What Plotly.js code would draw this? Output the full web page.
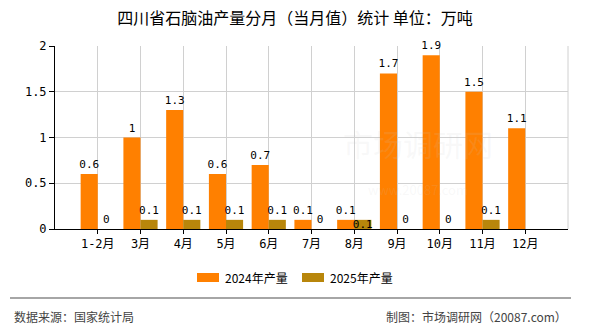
<!DOCTYPE html>
<html>
<head>
<meta charset="utf-8">
<script src="https://cdn.plot.ly/plotly-3.0.1.min.js"></script>
<style>
  html, body { margin: 0; padding: 0; background: #fff; }
  #chart { width: 590px; height: 330px; }
</style>
</head>
<body>
<div id="chart"></div>
<script>
// 四川省石脑油产量分月（当月值），万吨
const months = ['1-2月', '3月', '4月', '5月', '6月', '7月', '8月', '9月', '10月', '11月', '12月'];
const output2024 = [0.6, 1, 1.3, 0.6, 0.7, 0.1, 0.1, 1.7, 1.9, 1.5, 1.1];
const output2025 = [0, 0.1, 0.1, 0.1, 0.1, 0, 0.1, 0, 0, 0.1, null];
const seriesNames = ['2024年产量', '2025年产量'];
const seriesColors = ['#FF8000', '#B8860B'];
const yTicks = [0, 0.5, 1, 1.5, 2];

const monoFont = 'DejaVu Sans Mono, Noto Sans CJK SC, monospace';
const cjkFont = 'Noto Sans CJK SC, sans-serif';

const labelText = arr => arr.map(v => (v === null ? '' : String(v)));

// 8月 has two equal neighbouring labels; the 2025 one sits on the bar itself
const positions2025 = months.map(m => (m === '8月' ? 'inside' : 'outside'));

const traces = [output2024, output2025].map((vals, i) => ({
  type: 'bar', name: seriesNames[i], x: months, y: vals,
  marker: { color: seriesColors[i] },
  text: labelText(vals),
  textposition: i === 0 ? 'outside' : positions2025,
  insidetextanchor: 'middle',
  cliponaxis: false, constraintext: 'none',
  textfont: { family: monoFont, size: 11, color: '#000' },
  insidetextfont: { family: monoFont, size: 11, color: '#000' },
  outsidetextfont: { family: monoFont, size: 11, color: '#000' }
}));

// Paper-space helpers: plot area spans 55..568 px horizontally, 46..229 px vertically
const px = x => (x - 55) / 513;
const py = y => (229 - y) / 183;

// Hand-built legend with wide swatches
const legendShapes = [];
const legendNotes = [];
const legendX = [197, 302];
seriesNames.forEach((name, i) => {
  legendShapes.push({
    type: 'rect', xref: 'paper', yref: 'paper',
    x0: px(legendX[i]), x1: px(legendX[i] + 22), y0: py(282), y1: py(273),
    fillcolor: seriesColors[i], line: { width: 0 }
  });
  legendNotes.push({
    text: name, xref: 'paper', yref: 'paper', x: px(legendX[i] + 26), y: py(277.5),
    xanchor: 'left', yanchor: 'middle', showarrow: false,
    font: { family: cjkFont, size: 12, color: '#000' }
  });
});

const layout = {
  width: 590, height: 330,
  margin: { l: 55, r: 22, t: 46, b: 101 },
  paper_bgcolor: '#fff', plot_bgcolor: '#fff',
  barmode: 'group', bargap: 0.2, bargroupgap: 0,
  title: {
    text: '四川省石脑油产量分月（当月值）统计 单位：万吨',
    font: { family: cjkFont, size: 16, color: '#000' },
    x: 0.5, xanchor: 'center', y: 0.945, yanchor: 'middle'
  },
  xaxis: {
    type: 'category', range: [-1, 11],
    showline: true, linecolor: '#000', linewidth: 1,
    showgrid: true, gridcolor: '#d0d0d0', gridwidth: 1,
    ticks: 'outside', ticklen: 4, tickcolor: '#000',
    tickfont: { family: monoFont, size: 12, color: '#000' },
    zeroline: false, fixedrange: true
  },
  yaxis: {
    range: [0, 2], tickvals: yTicks, ticktext: yTicks.map(String),
    showline: true, linecolor: '#000', linewidth: 1,
    showgrid: true, gridcolor: '#d0d0d0', gridwidth: 1,
    ticks: 'outside', ticklen: 5, tickcolor: '#000',
    tickfont: { family: monoFont, size: 12, color: '#000' },
    zeroline: false, fixedrange: true
  },
  showlegend: false,
  shapes: [
    // right edge of the plot frame
    { type: 'line', xref: 'paper', yref: 'paper', x0: 1, x1: 1, y0: 0, y1: 1,
      line: { color: '#d0d0d0', width: 1 } },
    // footer divider
    { type: 'line', xref: 'paper', yref: 'paper', x0: px(10), x1: px(571), y0: py(298), y1: py(298),
      line: { color: '#888', width: 1.5 } }
  ].concat(legendShapes),
  annotations: [
    { text: '数据来源：国家统计局', xref: 'paper', yref: 'paper', x: px(12), y: py(316),
      xanchor: 'left', yanchor: 'middle', showarrow: false,
      font: { family: cjkFont, size: 12, color: '#444' } },
    { text: '制图：市场调研网（20087.com）', xref: 'paper', yref: 'paper', x: px(569), y: py(316),
      xanchor: 'right', yanchor: 'middle', showarrow: false,
      font: { family: cjkFont, size: 12, color: '#444' } },
    // faint watermark
    { text: '市场调研网<br><span style="font-size:13px">www.20087.com</span>',
      xref: 'paper', yref: 'paper', x: px(418), y: py(160),
      xanchor: 'center', yanchor: 'middle', showarrow: false,
      font: { family: cjkFont, size: 30, color: 'rgba(200,200,200,0.12)' } }
  ].concat(legendNotes)
};

Plotly.newPlot('chart', traces, layout, { displayModeBar: false, staticPlot: true });
</script>
</body>
</html>
